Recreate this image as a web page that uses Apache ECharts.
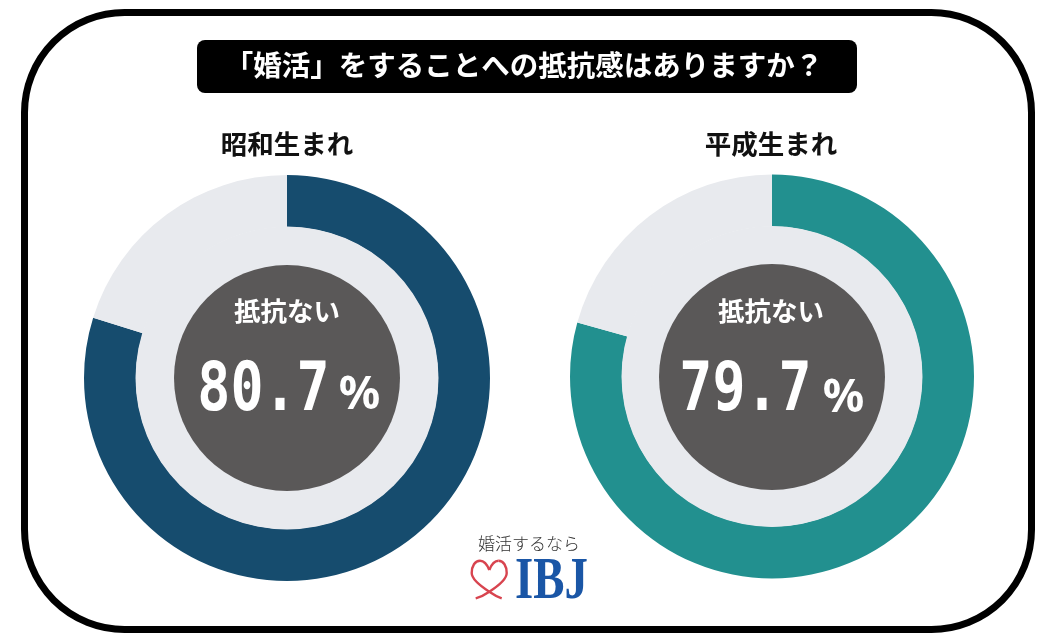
<!DOCTYPE html>
<html>
<head>
<meta charset="utf-8">
<style>
html,body{margin:0;padding:0;background:#fff;}
#main{width:1043px;height:641px;}
</style>
<script src="https://cdn.jsdelivr.net/npm/echarts@6/dist/echarts.min.js"></script>
</head>
<body>
<div id="main"></div>
<script>
// データ
var chartTitle = '「婚活」をすることへの抵抗感はありますか？';
var groupNames = ['昭和生まれ', '平成生まれ'];
// 円の中に書かれている数字
var printedShare = [80.7, 79.7];
// 元の図で実際に描かれている弧の割合（印字の数字より少し小さい）
var arcShare = [79.8, 79.3];
var arcRest = [20.2, 20.7];
var centerLabel = '抵抗ない';
var logoCopy = '婚活するなら';
var logoName = 'IBJ';

var jp = '"Noto Sans CJK JP"';
var mono = '"DejaVu Sans Mono"';

function donut(name, center, r0, r1, value, rest, color) {
    return {
        name: name,
        type: 'pie',
        center: center,
        radius: [r0, r1],
        startAngle: 90,
        clockwise: true,
        silent: true,
        label: {show: false},
        labelLine: {show: false},
        data: [
            {value: value, name: centerLabel, itemStyle: {color: color}},
            {value: rest, name: 'その他', itemStyle: {color: '#e8eaee'}}
        ]
    };
}

// ロゴのハート
function heartLine(x1, y1, cpx1, cpy1, cpx2, cpy2, x2, y2) {
    return {
        type: 'bezierCurve',
        shape: {x1: x1, y1: y1, cpx1: cpx1, cpy1: cpy1, cpx2: cpx2, cpy2: cpy2, x2: x2, y2: y2},
        style: {fill: 'none', stroke: '#d8444f', lineWidth: 2.4}
    };
}

var chart = echarts.init(document.getElementById('main'), null, {renderer: 'canvas'});

chart.setOption({
    backgroundColor: '#fff',
    animation: false,
    series: [
        donut(groupNames[0], [287, 378], 151, 203, arcShare[0], arcRest[0], '#164c6e'),
        donut(groupNames[1], [772, 376.5], 150, 202, arcShare[1], arcRest[1], '#22908f')
    ],
    graphic: [
        // 外枠
        {type: 'rect', shape: {x: 24.5, y: 12.5, width: 1007, height: 617, r: 100},
            style: {fill: 'none', stroke: '#000', lineWidth: 7}},
        // タイトル
        {type: 'rect', shape: {x: 197, y: 40, width: 660, height: 53, r: 8}, style: {fill: '#000'}},
        {type: 'text', x: 524, y: 65, style: {text: chartTitle, fill: '#fff', font: 'bold 28.5px ' + jp, align: 'center', verticalAlign: 'middle'}},
        {type: 'text', x: 287, y: 144, style: {text: groupNames[0], fill: '#111', font: 'bold 26.5px ' + jp, align: 'center', verticalAlign: 'middle'}},
        {type: 'text', x: 771, y: 144, style: {text: groupNames[1], fill: '#111', font: 'bold 26.5px ' + jp, align: 'center', verticalAlign: 'middle'}},
        // 中央の円
        {type: 'circle', z: 5, shape: {cx: 287, cy: 378, r: 151.5}, style: {fill: '#e8eaee'}},
        {type: 'circle', z: 5, shape: {cx: 772, cy: 376.5, r: 150.5}, style: {fill: '#e8eaee'}},
        {type: 'circle', z: 5, shape: {cx: 287, cy: 378, r: 113}, style: {fill: '#5a5858'}},
        {type: 'circle', z: 5, shape: {cx: 772, cy: 377, r: 113}, style: {fill: '#5a5858'}},
        {type: 'text', z: 6, x: 287, y: 311, style: {text: centerLabel, fill: '#fff', font: 'bold 26.5px ' + jp, align: 'center', verticalAlign: 'middle'}},
        {type: 'text', z: 6, x: 771, y: 311, style: {text: centerLabel, fill: '#fff', font: 'bold 26.5px ' + jp, align: 'center', verticalAlign: 'middle'}},
        {type: 'text', z: 6, x: 263.5, y: 393, scaleX: 0.82, style: {text: printedShare[0].toFixed(1), fill: '#fff', font: 'bold 67px ' + mono, align: 'center', verticalAlign: 'middle'}},
        {type: 'text', z: 6, x: 359.5, y: 396, style: {text: '%', fill: '#fff', font: 'bold 46px "Noto Sans"', align: 'center', verticalAlign: 'middle'}},
        {type: 'text', z: 6, x: 745.5, y: 393, scaleX: 0.82, style: {text: printedShare[1].toFixed(1), fill: '#fff', font: 'bold 67px ' + mono, align: 'center', verticalAlign: 'middle'}},
        {type: 'text', z: 6, x: 843.5, y: 399, style: {text: '%', fill: '#fff', font: 'bold 46px "Noto Sans"', align: 'center', verticalAlign: 'middle'}},
        // ロゴ
        {type: 'text', x: 529, y: 544, style: {text: logoCopy, fill: '#333', font: '300 17px ' + jp, align: 'center', verticalAlign: 'middle'}},
        heartLine(489.3, 570, 487, 564, 484, 560.7, 480, 560.7),
        heartLine(480, 560.7, 475, 560.7, 471.7, 566, 471.7, 573),
        heartLine(471.7, 573, 471.7, 580, 482, 587, 489.3, 591.7),
        heartLine(489.3, 591.7, 494, 595, 498, 597, 501.7, 598.3),
        heartLine(489.3, 570, 491.6, 564, 494.6, 560.7, 498.5, 560.7),
        heartLine(498.5, 560.7, 503.5, 560.7, 506.7, 566, 506.7, 573),
        heartLine(506.7, 573, 506.7, 580, 496.6, 587, 489.3, 591.7),
        heartLine(489.3, 591.7, 484.6, 595, 480.6, 597, 475.7, 598.3),
        {type: 'text', x: 515, y: 582, scaleX: 0.78, style: {text: logoName, fill: '#1a56a6', font: 'bold 60px "Liberation Serif"', align: 'left', verticalAlign: 'middle'}}
    ]
});
</script>
</body>
</html>
